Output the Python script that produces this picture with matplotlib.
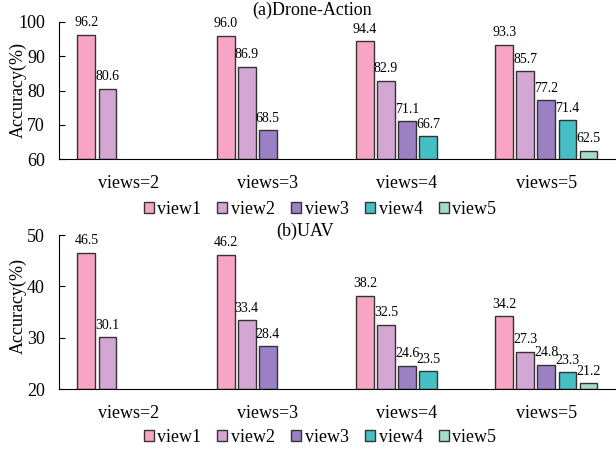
import numpy as np
import matplotlib.pyplot as plt

plt.rcParams['font.family'] = 'Liberation Serif'
plt.rcParams['font.size'] = 13

groups = ['views=2', 'views=3', 'views=4', 'views=5']
series = ['view1', 'view2', 'view3', 'view4', 'view5']
colors = ['#F8A4C4', '#D4A6D4', '#9B80C4', '#46BFC4', '#A6DCC6']

# each row is one view, NaN where that view does not exist in the group
drone = [
    [96.2, 96.0, 94.4, 93.3],
    [80.6, 86.9, 82.9, 85.7],
    [np.nan, 68.5, 71.1, 77.2],
    [np.nan, np.nan, 66.7, 71.4],
    [np.nan, np.nan, np.nan, 62.5],
]
uav = [
    [46.5, 46.2, 38.2, 34.2],
    [30.1, 33.4, 32.5, 27.3],
    [np.nan, 28.4, 24.6, 24.8],
    [np.nan, np.nan, 23.5, 23.3],
    [np.nan, np.nan, np.nan, 21.2],
]

W, H = 616, 450
fig = plt.figure(figsize=(W / 100, H / 100), dpi=100)

step = 0.1508
width = 0.127
x = np.arange(len(groups))
left, axw = 58.7 / W, 1 - 58.7 / W


def panel(top, bottom, data, ylim, yticks, title, title_xy, legend_y, label_y):
    ax = fig.add_axes([left, 1 - bottom / H, axw, (bottom - top) / H])
    for i, vals in enumerate(data):
        vals = np.array(vals, dtype=float)
        pos = x + (i - 2) * step
        ok = ~np.isnan(vals)
        bars = ax.bar(pos[ok], vals[ok] - ylim[0], width, bottom=ylim[0],
                      color=colors[i], edgecolor='#333333', linewidth=1,
                      label=series[i])
        for b, v in zip(bars, vals[ok]):
            ax.annotate(f'{v:.1f}', (b.get_x() + b.get_width() / 2, v),
                        xytext=(0, 4), textcoords='offset points',
                        ha='center', va='bottom', fontsize=10)
    ax.set_xlim(-0.5, 3.5)
    ax.set_ylim(*ylim)
    ax.set_yticks(yticks)
    ax.set_xticks(x)
    ax.set_xticklabels(groups)
    ax.tick_params(axis='x', length=0, pad=11, labelsize=13)
    ax.tick_params(axis='y', direction='in', length=4, pad=10, labelsize=13)
    ax.spines['top'].set_visible(False)
    ax.spines['right'].set_visible(False)
    ax.set_ylabel('Accuracy(%)', fontsize=13)
    ax.yaxis.set_label_coords((18 - 58.7) / (axw * W),
                              (bottom - label_y) / (bottom - top))
    ax.yaxis.label.set_va('center')
    fig.text(title_xy[0] / W, 1 - title_xy[1] / H, title,
             ha='center', va='center', fontsize=13)
    ax.legend(loc='center', bbox_to_anchor=(320 / W, 1 - legend_y / H),
              bbox_transform=fig.transFigure, ncol=5, frameon=False,
              handlelength=0.55, handleheight=0.55, handletextpad=0.2,
              columnspacing=0.9, fontsize=13, borderpad=0)
    return ax


panel(22, 159.3, drone, (60, 100), [60, 70, 80, 90, 100],
      '(a)Drone-Action', (312, 10), 209, 90)
panel(235, 389.3, uav, (20, 50), [20, 30, 40, 50],
      '(b)UAV', (305, 231), 437, 306)

fig.savefig('out.png', dpi=100)
